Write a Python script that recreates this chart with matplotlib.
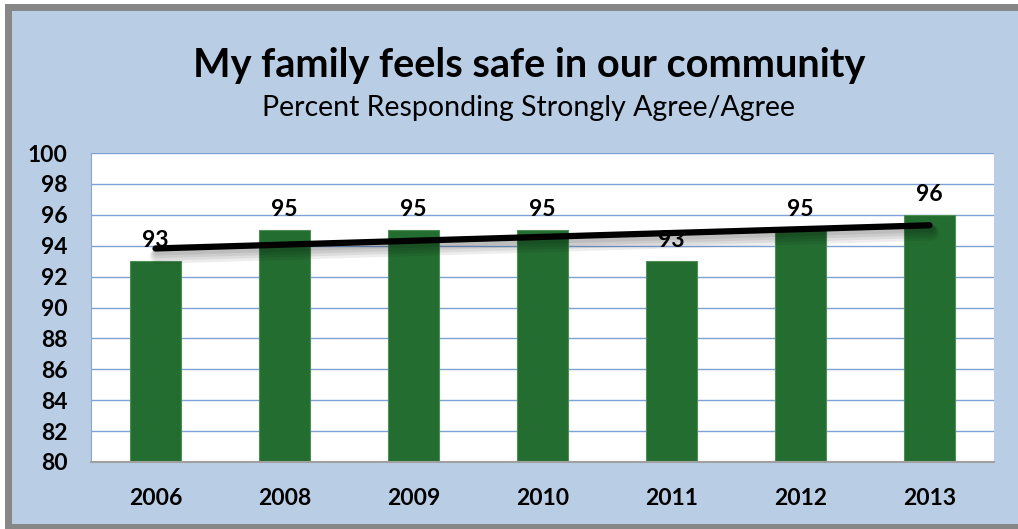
import matplotlib.pyplot as plt
from matplotlib.patches import Rectangle
import matplotlib.patheffects as pe
import numpy as np

years = ["2006", "2008", "2009", "2010", "2011", "2012", "2013"]
pct_agree = [93, 95, 95, 95, 93, 95, 96]

W, H = 1018, 529
fig = plt.figure(figsize=(W / 100, H / 100), dpi=100)
fig.patch.set_facecolor("white")

# gray frame with the light blue chart panel inside
fig.patches.append(Rectangle((5 / W, 0), 1, 1 - 4 / H, transform=fig.transFigure,
                             facecolor="#878787", edgecolor="none", zorder=0))
fig.patches.append(Rectangle((12 / W, 5 / H), 1, 1 - 16 / H, transform=fig.transFigure,
                             facecolor="#b9cde5", edgecolor="none", zorder=0))

font = "Lato"

ax = fig.add_axes([91 / W, 1 - 462 / H, 903 / W, 309 / H])
ax.set_zorder(2)
ax.set_facecolor("white")

x = np.arange(len(years))
ax.bar(x, pct_agree, width=0.4, bottom=0, color="#246d31", edgecolor="#4e8f55",
       linewidth=0.8, zorder=2)

# value labels
for xi, v in zip(x, pct_agree):
    ax.text(xi, v + 0.65, str(v), ha="center", va="bottom", fontsize=16.5,
            fontweight="bold", family=font, color="black", zorder=4)

# linear trend line with a soft drop shadow
slope, intercept = np.polyfit(x, pct_agree, 1)
shadow = [pe.SimpleLineShadow(offset=(1.5, -2.5 - k), linewidth=5 + 2 * k,
                              shadow_color="black", alpha=0.07) for k in range(4)]
ax.plot([x[0], x[-1]], [intercept + slope * x[0], intercept + slope * x[-1]],
        color="black", linewidth=4.5, solid_capstyle="round", zorder=5,
        path_effects=shadow + [pe.Normal()])

ax.set_ylim(80, 100)
ax.set_xlim(-0.5, len(years) - 0.5)
ax.set_yticks(range(80, 101, 2))
ax.set_xticks(x)
ax.set_xticklabels(years)
ax.yaxis.grid(True, color="#7fa2d6", linewidth=1.0, zorder=1)
ax.set_axisbelow(True)
ax.tick_params(axis="both", length=0, labelsize=16.5)
ax.tick_params(axis="x", pad=19)
ax.tick_params(axis="y", pad=17)
for lbl in ax.get_xticklabels() + ax.get_yticklabels():
    lbl.set_fontweight("bold")
    lbl.set_family(font)
for side in ["top", "right"]:
    ax.spines[side].set_visible(False)
ax.spines["left"].set_color("#8da7c9")
ax.spines["bottom"].set_color("#a0a0a0")
ax.spines["bottom"].set_linewidth(1.5)

fig.text(529 / W, 1 - 65 / H, "My family feels safe in our community", ha="center",
         va="center", fontsize=28.5, fontweight="bold", family=font)
fig.text(529 / W, 1 - 108 / H, "Percent Responding Strongly Agree/Agree", ha="center",
         va="center", fontsize=20.5, family=font)

fig.savefig("out.png", dpi=100, facecolor=fig.get_facecolor())
